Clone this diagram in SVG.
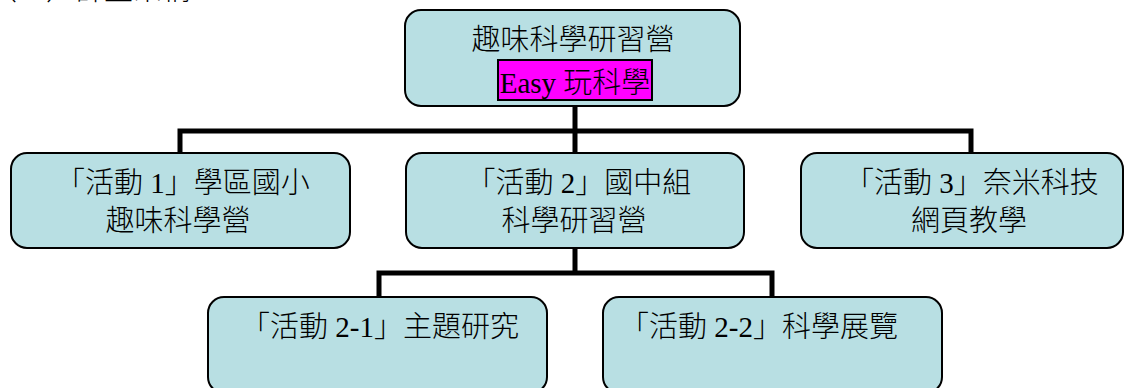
<svg xmlns="http://www.w3.org/2000/svg" width="1127" height="388" viewBox="0 0 1127 388">
<style>
.box{fill:#B8DFE3;stroke:#000;stroke-width:2}
.t{font-family:"Liberation Serif","Noto Sans CJK TC",serif;font-size:29px;font-weight:300;fill:#000;text-anchor:middle}
.c{fill:none;stroke:#000;stroke-width:5}
</style>
<rect width="1127" height="388" fill="#fff"/>
<text class="t" x="-12" y="0" style="text-anchor:start">（二）計畫架構</text>
<g id="connectors">
<path class="c" d="M575,106 V131 M180,153 V131 H971 V153 M575,131 V153"/>
<path class="c" d="M575,248 V273 M379,297 V273 H772 V297"/>
</g>
<g id="root">
<rect class="box" x="405" y="10" width="335" height="96" rx="16"/>
<text class="t" x="573" y="50">趣味科學研習營</text>
<rect x="498" y="60" width="154" height="40" fill="#FF00FF" stroke="#000" stroke-width="2"/>
<text class="t" x="575" y="93">Easy 玩科學</text>
</g>
<g id="act1">
<rect class="box" x="11" y="153" width="339" height="95" rx="16"/>
<text class="t" x="183" y="193">「活動 1」學區國小</text>
<text class="t" x="178" y="231">趣味科學營</text>
</g>
<g id="act2">
<rect class="box" x="406" y="153" width="338" height="95" rx="16"/>
<text class="t" x="579" y="193">「活動 2」國中組</text>
<text class="t" x="574" y="231">科學研習營</text>
</g>
<g id="act3">
<rect class="box" x="801" y="153" width="322" height="95" rx="16"/>
<text class="t" x="972" y="193">「活動 3」奈米科技</text>
<text class="t" x="969" y="231">網頁教學</text>
</g>
<g id="act21">
<rect class="box" x="208" y="297" width="339" height="96" rx="16"/>
<text class="t" x="380" y="337">「活動 2-1」主題研究</text>
</g>
<g id="act22">
<rect class="box" x="603" y="297" width="339" height="96" rx="16"/>
<text class="t" x="759" y="337">「活動 2-2」科學展覽</text>
</g>
</svg>
